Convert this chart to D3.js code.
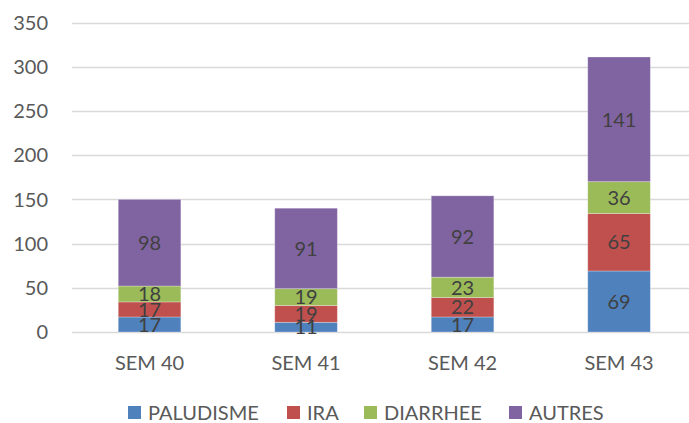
<!DOCTYPE html>
<html><head><meta charset="utf-8">
<script src="https://cdn.jsdelivr.net/npm/d3@7"></script>
<style>body{margin:0;background:#fff}svg{display:block;font-family:Lato,"Open Sans",sans-serif}</style>
</head><body><svg id="c" width="689" height="423"></svg>
<script>
const categories = ["SEM 40","SEM 41","SEM 42","SEM 43"];
const seriesNames = ["PALUDISME","IRA","DIARRHEE","AUTRES"];
const paludisme = [17,11,17,69];
const ira = [17,19,22,65];
const diarrhee = [18,19,23,36];
const autres = [98,91,92,141];
const yTicks = [0,50,100,150,200,250,300,350];
const colors = ["#4F81BD","#C0504D","#9BBB59","#8064A2"];

const rows = categories.map((c,i)=>({cat:c,PALUDISME:paludisme[i],IRA:ira[i],DIARRHEE:diarrhee[i],AUTRES:autres[i]}));
const stack = d3.stack().keys(seriesNames)(rows);

const svg = d3.select("#c");
const x = d3.scaleBand().domain(categories).range([71.3,697.3]).paddingInner(0.6).paddingOuter(0.3);
const y = d3.scaleLinear().domain([0,350]).range([332,22.5]);

// gridlines
svg.append("g").selectAll("line").data(yTicks).join("line")
  .attr("x1",72).attr("x2",689).attr("y1",d=>Math.round(y(d))+0.5).attr("y2",d=>Math.round(y(d))+0.5)
  .attr("stroke","#d9d9d9").attr("stroke-width",1.3);

// y labels
svg.append("g").selectAll("text").data(yTicks).join("text")
  .attr("x",48).attr("y",d=>y(d)).attr("dy","0.36em").attr("text-anchor","end")
  .attr("font-size",20).attr("fill","#595959").text(d=>d);

// bars
const g = svg.append("g");
stack.forEach((s,si)=>{
  g.append("g").selectAll("rect").data(s).join("rect")
    .attr("x",d=>x(d.data.cat)).attr("width",x.bandwidth())
    .attr("y",d=>y(d[1])).attr("height",d=>y(d[0])-y(d[1]))
    .attr("fill",colors[si]).attr("stroke","#ffffff").attr("stroke-opacity",0.35).attr("stroke-width",0.8);
});
// labels
stack.forEach((s,si)=>{
  g.append("g").selectAll("text").data(s).join("text")
    .attr("x",d=>x(d.data.cat)+x.bandwidth()/2)
    .attr("y",d=>(y(d[0])+y(d[1]))/2).attr("dy","0.36em")
    .attr("text-anchor","middle").attr("font-size",20).attr("fill","#404040")
    .text(d=>d[1]-d[0]);
});

// x labels
svg.append("g").selectAll("text").data(categories).join("text")
  .attr("x",d=>x(d)+x.bandwidth()/2).attr("y",363).attr("dy","0.36em")
  .attr("text-anchor","middle").attr("font-size",20).attr("fill","#595959").text(d=>d);

// legend
const legX = [128,287,364,509];
const leg = svg.append("g");
seriesNames.forEach((n,i)=>{
  leg.append("rect").attr("x",legX[i]).attr("y",406).attr("width",13).attr("height",13).attr("fill",colors[i]);
  leg.append("text").attr("x",legX[i]+20).attr("y",413).attr("dy","0.36em")
    .attr("font-size",20).attr("fill","#595959").text(n);
});
</script></body></html>
